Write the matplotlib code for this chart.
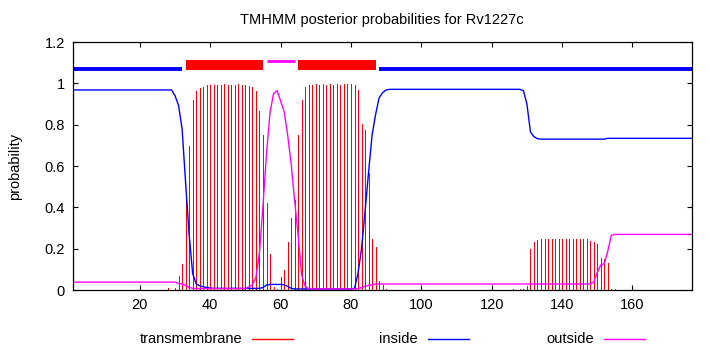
import matplotlib
matplotlib.use("Agg")
import matplotlib.pyplot as plt
import numpy as np

plt.rcParams['font.family'] = ['Liberation Sans', 'DejaVu Sans']

# posterior probabilities per residue (1..177)
transmembrane = (
    [0.0] * 27 +                                                            # 1-27
    [0.008, 0.0, 0.008, 0.066, 0.126, 0.448, 0.696, 0.918, 0.964, 0.977,   # 28-37
     0.982, 0.990, 0.993, 0.992, 0.993, 0.992, 0.997, 0.993, 0.992, 0.993,  # 38-47
     0.997, 0.993, 0.992, 0.985, 0.981, 0.961, 0.868, 0.752, 0.421, 0.174,  # 48-57
     0.013, 0.004, 0.062, 0.096, 0.233, 0.347, 0.436, 0.751, 0.917, 0.981,  # 58-67
     0.994, 0.994, 0.997, 0.994, 0.997, 0.994, 0.997, 0.994, 0.997, 0.994,  # 68-77
     0.997, 0.997, 0.997, 0.992, 0.966, 0.803, 0.776, 0.566, 0.247, 0.207,  # 78-87
     0.045, 0.026, 0.005] +                                                 # 88-90
    [0.0] * 35 +                                                            # 91-125
    [0.005, 0.0, 0.005, 0.005, 0.020, 0.198, 0.232, 0.242] +                # 126-133
    [0.247] * 14 +                                                          # 134-147
    [0.238, 0.232, 0.222, 0.155, 0.150, 0.131, 0.005, 0.005] +              # 148-155
    [0.0] * 22                                                              # 156-177
)
inside = (
    [0.968] * 28 +                                                          # 1-28
    [0.968, 0.940, 0.893, 0.780, 0.520, 0.270, 0.080, 0.030, 0.020, 0.016,  # 29-38
     0.012, 0.010, 0.008, 0.008, 0.008, 0.008, 0.008, 0.008, 0.008, 0.008,  # 39-48
     0.008, 0.008, 0.008, 0.008, 0.008, 0.008, 0.012, 0.024, 0.027, 0.027,  # 49-58
     0.027, 0.027, 0.025, 0.018, 0.008, 0.005, 0.005, 0.005, 0.005, 0.005] +  # 59-68
    [0.005] * 12 +                                                          # 69-80
    [0.008, 0.080, 0.200, 0.380, 0.570, 0.750, 0.850, 0.930, 0.955, 0.968] +  # 81-90
    [0.971] * 38 +                                                          # 91-128
    [0.965, 0.900, 0.765, 0.742, 0.732] +                                   # 129-133
    [0.730] * 19 +                                                          # 134-152
    [0.734] * 25                                                            # 153-177
)
outside = (
    [0.038] * 29 +                                                          # 1-29
    [0.038, 0.031, 0.030, 0.022, 0.013, 0.008] +                            # 30-35
    [0.007] * 15 +                                                          # 36-50
    [0.016, 0.026, 0.062, 0.180, 0.410, 0.660, 0.860, 0.950, 0.965, 0.915,  # 51-60
     0.864, 0.750, 0.610, 0.430, 0.260, 0.070, 0.018, 0.006] +              # 61-68
    [0.005] * 13 +                                                          # 69-81
    [0.006, 0.012, 0.018, 0.022, 0.026] +                                   # 82-86
    [0.029] * 61 +                                                          # 87-147
    [0.030, 0.038, 0.085, 0.121, 0.128, 0.190, 0.265] +                     # 148-154
    [0.269] * 23                                                            # 155-177
)
residues = np.arange(1, len(transmembrane) + 1)

# predicted topology (start, end)
topo_inside = [(1, 32), (88, 177)]
topo_tm = [(33, 55), (65, 87)]
topo_outside = [(56, 64)]

series_names = ["transmembrane", "inside", "outside"]
colors = {"transmembrane": "#ff0000", "inside": "#0000ff", "outside": "#ff00ff"}
fs = 10.5

fig = plt.figure(figsize=(7.1, 3.5), dpi=100)
ax = fig.add_axes([73 / 710, 1 - 290 / 350, (692.3 - 73) / 710, (290 - 42) / 350])

ax.vlines(residues, 0, transmembrane, colors=colors["transmembrane"], lw=0.6, antialiased=False)
ax.plot(residues, inside, color=colors["inside"], lw=1.0)
ax.plot(residues, outside, color=colors["outside"], lw=1.0)

# topology bar on top
for s, e in topo_inside:
    ax.plot([s, e], [1.067, 1.067], color=colors["inside"], lw=2.8, solid_capstyle="butt")
for s, e in topo_outside:
    ax.plot([s, e], [1.11, 1.11], color=colors["outside"], lw=2.0, solid_capstyle="butt")
ax.broken_barh([(s, e - s) for s, e in topo_tm], (1.066, 0.047), color=colors["transmembrane"], lw=0)

ax.set_xlim(1, 177)
ax.set_ylim(0, 1.2)
ax.set_xticks([20, 40, 60, 80, 100, 120, 140, 160])
ax.set_yticks([0, 0.2, 0.4, 0.6, 0.8, 1.0, 1.2])
ax.set_yticklabels(["0", "0.2", "0.4", "0.6", "0.8", "1", "1.2"])
ax.tick_params(direction="in", length=3.5, width=0.8, top=True, right=True, labelsize=fs, pad=6)
for sp in ax.spines.values():
    sp.set_linewidth(0.9)

ax.set_ylabel("probability", fontsize=fs, labelpad=16)
fig.text(382 / 710, 1 - 20 / 350, "TMHMM posterior probabilities for Rv1227c",
         ha="center", va="center", fontsize=fs)

# key row below the plot, gnuplot style (text then sample)
key_right = [242, 418, 594]
for name, xr in zip(series_names, key_right):
    fig.text(xr / 710, 1 - 339 / 350, name, ha="right", va="center", fontsize=fs)
    fig.add_artist(plt.Line2D([(xr + 10) / 710, (xr + 51) / 710], [1 - 339 / 350] * 2,
                              color=colors[name], lw=1.0))

plt.savefig("out.png", dpi=100)
plt.close()
